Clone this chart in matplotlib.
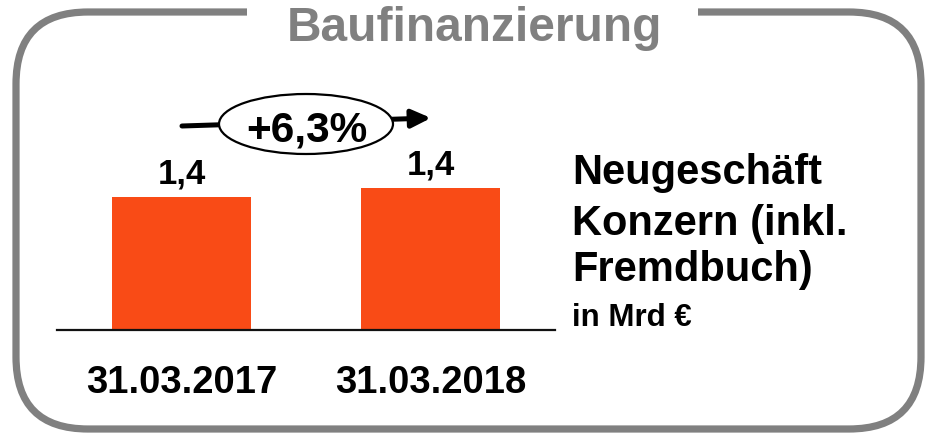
import matplotlib
matplotlib.use("Agg")
import matplotlib.pyplot as plt
from matplotlib.patches import FancyBboxPatch, Rectangle, Ellipse, FancyArrowPatch

# ---- data ----
categories = ["31.03.2017", "31.03.2018"]
values = [1.40, 1.49]
value_labels = ["1,4", "1,4"]
growth_label = "+6,3%"
title = "Baufinanzierung"
side_lines = ["Neugeschäft", "Konzern (inkl.", "Fremdbuch)"]
unit_label = "in Mrd €"

FONT = ["Liberation Sans", "DejaVu Sans"]
plt.rcParams["font.family"] = FONT
BAR_COLOR = "#F94B16"
GRAY = "#808080"

W, H = 925, 435
fig = plt.figure(figsize=(W / 100, H / 100), dpi=100)
fig.patch.set_facecolor("white")

def fx(px):
    return px / W

def fy(py):
    return 1 - py / H

# ---- bar axes (pixel geometry: x 57..555, baseline y=331, top y=141) ----
ax = fig.add_axes([fx(57), fy(331), fx(555) - fx(57), fy(141) - fy(331)])
ax.set_facecolor("none")
x = list(range(len(categories)))
ax.bar(x, values, width=0.562, color=BAR_COLOR, zorder=2)
ax.set_xlim(-0.5, 1.5)
ax.set_ylim(0, 2.0)
for s in ["top", "right", "left"]:
    ax.spines[s].set_visible(False)
ax.spines["bottom"].set_linewidth(1.6)
ax.spines["bottom"].set_color("#111111")
ax.set_yticks([])
ax.set_xticks([])
for xi, v, lab in zip(x, values, value_labels):
    ax.annotate(lab, (xi, v), xytext=(0, 10.5), textcoords="offset points",
                ha="center", va="baseline", fontsize=25, fontweight="bold")
for xi, cat in zip(x, categories):
    ax.text(xi, -0.55, cat, ha="center", va="center", fontsize=27.5,
            fontweight="bold", clip_on=False)

# ---- overlay axes in pixel coordinates ----
ov = fig.add_axes([0, 0, 1, 1], zorder=3)
ov.set_xlim(0, W)
ov.set_ylim(H, 0)
ov.axis("off")
ov.set_facecolor("none")

frame = FancyBboxPatch((16, 13), 905, 417,
                       boxstyle="round,pad=0,rounding_size=72",
                       facecolor="none", edgecolor=GRAY, linewidth=5.2)
ov.add_patch(frame)
ov.add_patch(Rectangle((247, 0), 451, 28, facecolor="white", edgecolor="none", zorder=2))
ov.text(474, 41, title, ha="center", va="baseline", fontsize=34.5,
        fontweight="bold", color=GRAY, zorder=3)

# growth arrow with ellipse
arr = FancyArrowPatch((182, 127), (431, 119),
                      arrowstyle="-|>,head_length=11.5,head_width=5.4",
                      mutation_scale=1, lw=3.6, color="black",
                      shrinkA=0, shrinkB=0, zorder=3)
ov.add_patch(arr)
ov.add_patch(Ellipse((306, 125), 174, 60, facecolor="white",
                     edgecolor="black", linewidth=1.6, zorder=4))
ov.text(307, 142, growth_label, ha="center", va="baseline", fontsize=30.5,
        fontweight="bold", zorder=5)

# side text
for i, (line, yb) in enumerate(zip(side_lines, [184, 235, 281])):
    ov.text(572, yb, line, ha="left", va="baseline", fontsize=30,
            fontweight="bold")
ov.text(572, 326, unit_label, ha="left", va="baseline", fontsize=22.5,
        fontweight="bold")

fig.savefig("out.png", dpi=100, facecolor="white")
